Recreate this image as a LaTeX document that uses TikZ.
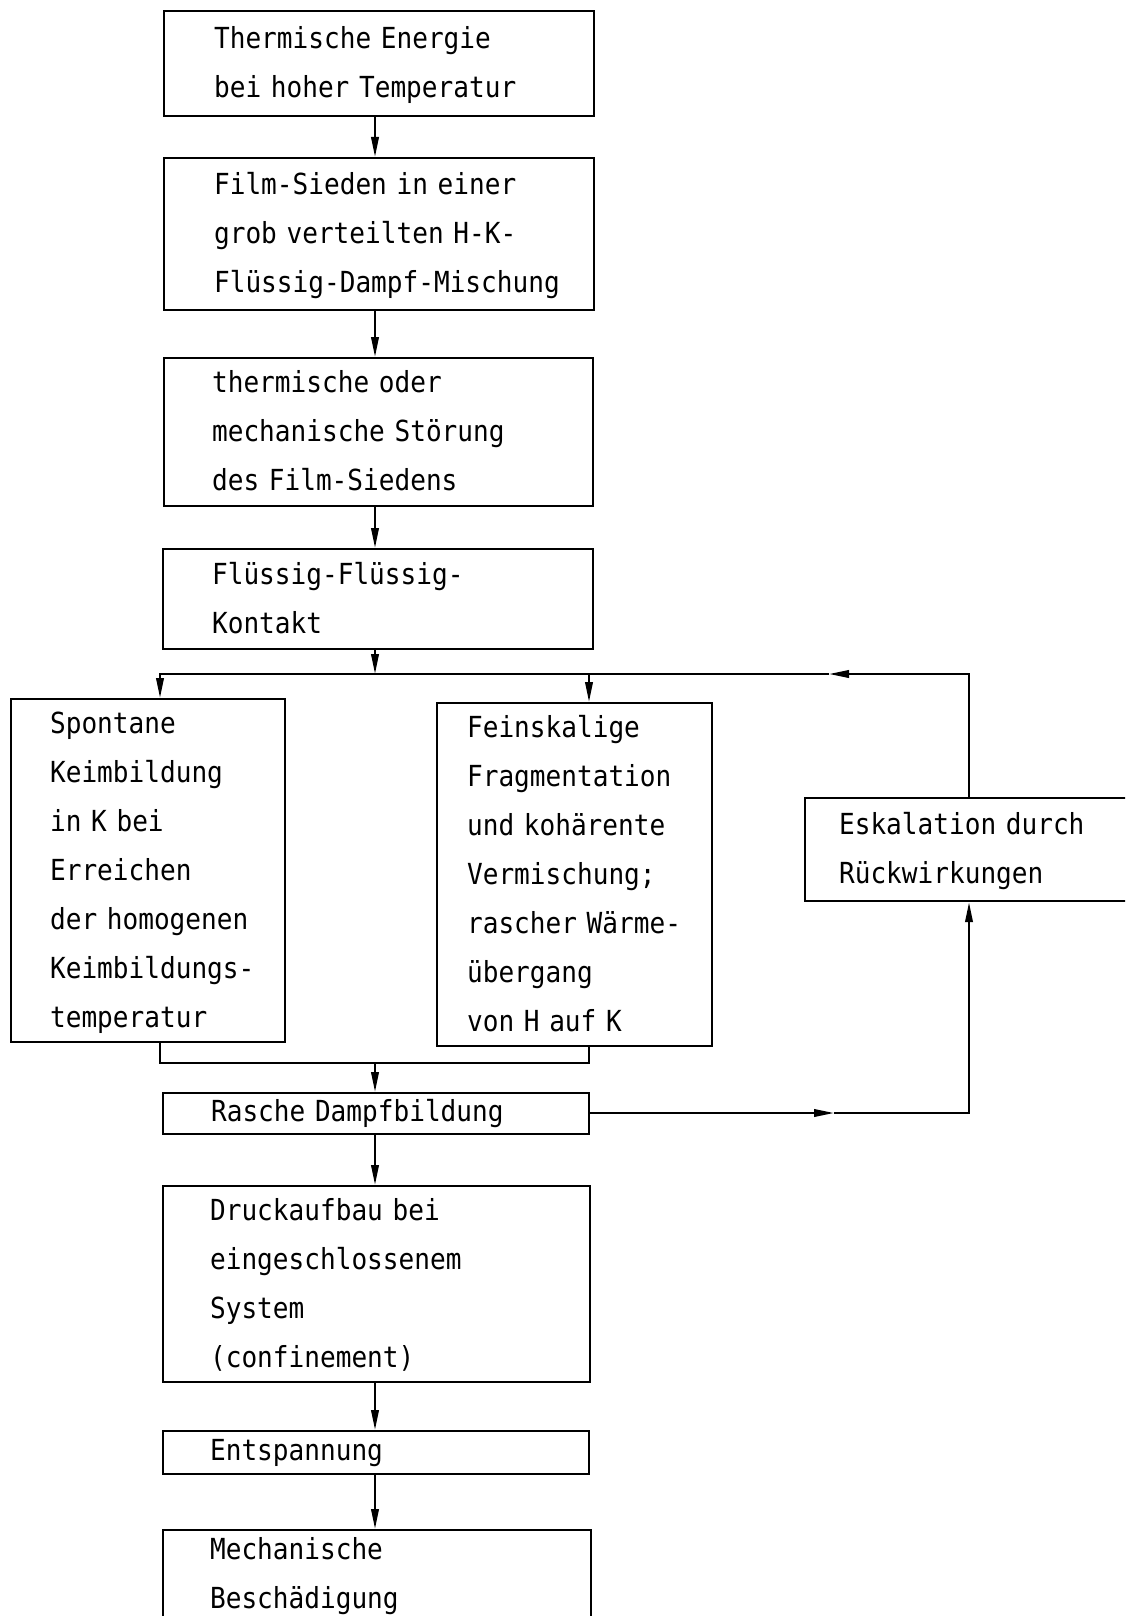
\documentclass[tikz,border=0pt]{standalone}
\usepackage{fontspec}
\usetikzlibrary{arrows.meta}
\newfontfamily\monofnt[FakeStretch=0.9]{DejaVu Sans Mono}
\newcommand{\tl}[1]{\begin{tabular}{@{}l@{}}#1\end{tabular}}
\begin{document}
\begin{tikzpicture}[x=1pt,y=-1pt,
  box/.style={draw, line width=2.2pt, anchor=north west, align=left,
    inner ysep=0pt,
    font={\monofnt\fontsize{29}{49}\selectfont}},
  onebox/.style={box, font={\monofnt\fontsize{29}{34}\selectfont}},
  arr/.style={line width=2.2pt, -{Triangle[length=20pt,width=7.5pt]}},
  ln/.style={line width=2.2pt}]
\path[use as bounding box] (0,0) rectangle (1125,1616);
\clip (0,0) rectangle (1125,1616);
% boxes (text width = width - 2*inner xsep)
\node[box, inner xsep=50pt, minimum height=105, text width=330] (k1) at (163,10)
  {\tl{Thermische Energie\\bei hoher Temperatur}};
\node[box, inner xsep=50pt, minimum height=152, text width=330] (k2) at (163,157)
  {\tl{Film-Sieden in einer\\grob verteilten H-K-\\Flüssig-Dampf-Mischung}};
\node[box, inner xsep=48pt, minimum height=148, text width=333] (k3) at (163,357)
  {\tl{thermische oder\\mechanische Störung\\des Film-Siedens}};
\node[box, inner xsep=49pt, minimum height=100, text width=332] (k4) at (162,548)
  {\tl{Flüssig-Flüssig-\\Kontakt}};
\node[box, inner xsep=39pt, minimum height=339, text width=196] (sp) at (10,698)
  {\tl{Spontane\\Keimbildung\\in K bei\\Erreichen\\der homogenen\\Keimbildungs-\\temperatur}};
\node[box, inner xsep=30pt, minimum height=340, text width=215] (fe) at (436,702)
  {\tl{Feinskalige\\Fragmentation\\und kohärente\\Vermischung;\\rascher Wärme-\\übergang\\von H auf K}};
\node[box, inner xsep=34pt, minimum height=103, text width=272] (esk) at (804,797)
  {\tl{Eskalation durch\\Rückwirkungen}};
\node[onebox, inner xsep=48pt, minimum height=41, text width=330] (ra) at (162,1092)
  {Rasche Dampfbildung};
\node[box, inner xsep=47pt, minimum height=195, text width=333] (dr) at (162,1185)
  {\tl{Druckaufbau bei\\eingeschlossenem\\System\\(confinement)}};
\node[onebox, inner xsep=47pt, minimum height=43, text width=332] (en) at (162,1430)
  {Entspannung};
\node[box, inner xsep=47pt, inner ysep=-5pt, minimum height=0pt, text width=334] (me) at (162,1529)
  {\tl{Mechanische\\Beschädigung\\[20pt]}};
% helper coordinates
\coordinate (bL) at (160,674);
\coordinate (bC) at (375,674);
\coordinate (bM) at (589,674);
\coordinate (bA) at (829,674);
\coordinate (bR) at (969,674);
\coordinate (jL) at (160,1063);
\coordinate (jC) at (375,1063);
\coordinate (jR) at (589,1063);
\coordinate (rA) at (834,1113);
\coordinate (rR) at (969,1113);
% spine
\draw[arr] (k1.south -| bC) -- (k2.north -| bC);
\draw[arr] (k2.south -| bC) -- (k3.north -| bC);
\draw[arr] (k3.south -| bC) -- (k4.north -| bC);
\draw[arr] (k4.south -| bC) -- (bC);
% bus
\draw[arr] (esk.north -| bR) -- (bR) -- (bA);
\draw[arr] (bA) -- (bL) -- (sp.north -| bL);
\draw[arr] (bM) -- (fe.north -| bM);
% join
\draw[ln] (sp.south -| jL) -- (jL) -- (jR) -- (fe.south -| jR);
\draw[arr] (jC) -- (ra.north -| jC);
% feedback
\draw[arr] (ra.east |- rR) -- (rA);
\draw[arr] (rA) -- (rR) -- (esk.south -| rR);
% lower spine
\draw[arr] (ra.south -| bC) -- (dr.north -| bC);
\draw[arr] (dr.south -| bC) -- (en.north -| bC);
\draw[arr] (en.south -| bC) -- (me.north -| bC);
\end{tikzpicture}
\end{document}
